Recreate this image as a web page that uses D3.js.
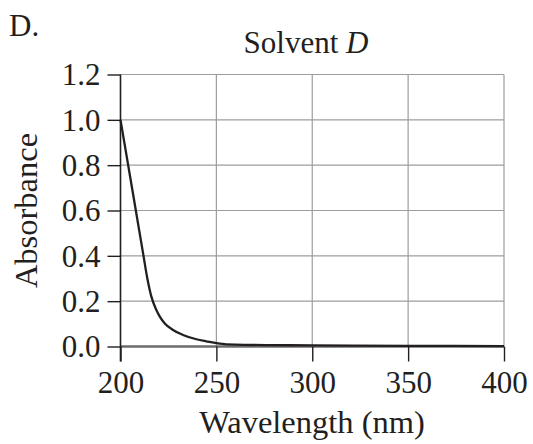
<!DOCTYPE html>
<html>
<head>
<meta charset="utf-8">
<script src="https://cdn.jsdelivr.net/npm/d3@7"></script>
<style>
  html, body { margin: 0; padding: 0; background: #fff; }
  svg { display: block; }
  text { font-family: "Liberation Serif", "Times New Roman", serif; fill: #231f20; }
</style>
</head>
<body>
<svg id="chart" width="533" height="444"></svg>
<script>
// Absorption spectrum of solvent D
const wavelengths = [200, 204, 208, 212, 214, 216.1, 218.7, 220.5, 223.1, 227.4, 232.6, 239.6, 244.8, 250.8, 260, 280, 300, 350, 400];
const absorbance  = [1.0, 0.8, 0.6, 0.4, 0.30, 0.22, 0.161, 0.132, 0.102, 0.073, 0.051, 0.032, 0.023, 0.014, 0.008, 0.006, 0.005, 0.003, 0.002];
const xTicks = [200, 250, 300, 350, 400];
const yTicks = [0.0, 0.2, 0.4, 0.6, 0.8, 1.0, 1.2];

const svg = d3.select("#chart");
const x = d3.scaleLinear().domain([200, 400]).range([120.5, 504]);
const y = d3.scaleLinear().domain([0, 1.2]).range([346.5, 74.5]);

// grid
const grid = svg.append("g").attr("stroke", "#9d9d9d").attr("stroke-width", 1.2);
grid.selectAll("line.v").data(xTicks.slice(1)).join("line")
  .attr("x1", d => x(d)).attr("x2", d => x(d))
  .attr("y1", y(1.2)).attr("y2", y(0));
grid.selectAll("line.h").data(yTicks.slice(1)).join("line")
  .attr("x1", x(200)).attr("x2", x(400))
  .attr("y1", d => y(d)).attr("y2", d => y(d));

// baseline
svg.append("line")
  .attr("x1", x(200)).attr("x2", x(400))
  .attr("y1", y(0)).attr("y2", y(0))
  .attr("stroke", "#6d6d6d").attr("stroke-width", 2.4);

// axes
const yAxis = d3.axisLeft(y).tickValues(yTicks).tickSize(13).tickSizeOuter(0)
  .tickFormat(d3.format(".1f")).tickPadding(7);
const gy = svg.append("g").attr("transform", `translate(${x(200)},0)`).call(yAxis);
gy.select(".domain").remove();
gy.selectAll(".tick line").attr("stroke", "#231f20").attr("stroke-width", 1.4);
gy.selectAll(".tick text").attr("font-size", 31).attr("dy", "0.33em")
  .style("font-family", "'Liberation Serif', serif").attr("fill", "#231f20");

const xAxis = d3.axisBottom(x).tickValues(xTicks).tickSize(15).tickSizeOuter(0)
  .tickFormat(d3.format("d")).tickPadding(9);
const gx = svg.append("g").attr("transform", `translate(0,${y(0)})`).call(xAxis);
gx.select(".domain").remove();
gx.selectAll(".tick line").attr("stroke", "#231f20").attr("stroke-width", 1.4);
gx.selectAll(".tick text").attr("font-size", 31).attr("dy", "0.71em")
  .style("font-family", "'Liberation Serif', serif").attr("fill", "#231f20");

// left axis line
svg.append("line")
  .attr("x1", x(200)).attr("x2", x(200))
  .attr("y1", y(1.2)).attr("y2", y(0) + 15)
  .attr("stroke", "#231f20").attr("stroke-width", 1.6);

// spectrum curve
const pts = wavelengths.map((w, i) => [w, absorbance[i]]);
svg.append("path")
  .datum(pts)
  .attr("fill", "none")
  .attr("stroke", "#231f20")
  .attr("stroke-width", 2.3)
  .attr("d", d3.line().x(d => x(d[0])).y(d => y(d[1])).curve(d3.curveMonotoneX));

// labels
svg.append("text").attr("x", 9).attr("y", 36).attr("font-size", 31).text("D.");

const title = svg.append("text").attr("x", 306).attr("y", 53)
  .attr("text-anchor", "middle").attr("font-size", 31);
title.append("tspan").text("Solvent ");
title.append("tspan").attr("font-style", "italic").text("D");

svg.append("text").attr("x", 312).attr("y", 433)
  .attr("text-anchor", "middle").attr("font-size", 32.5).text("Wavelength (nm)");

svg.append("text")
  .attr("transform", `translate(37,${(y(0) + y(1.2)) / 2}) rotate(-90)`)
  .attr("text-anchor", "middle").attr("font-size", 32.5).text("Absorbance");
</script>
</body>
</html>
